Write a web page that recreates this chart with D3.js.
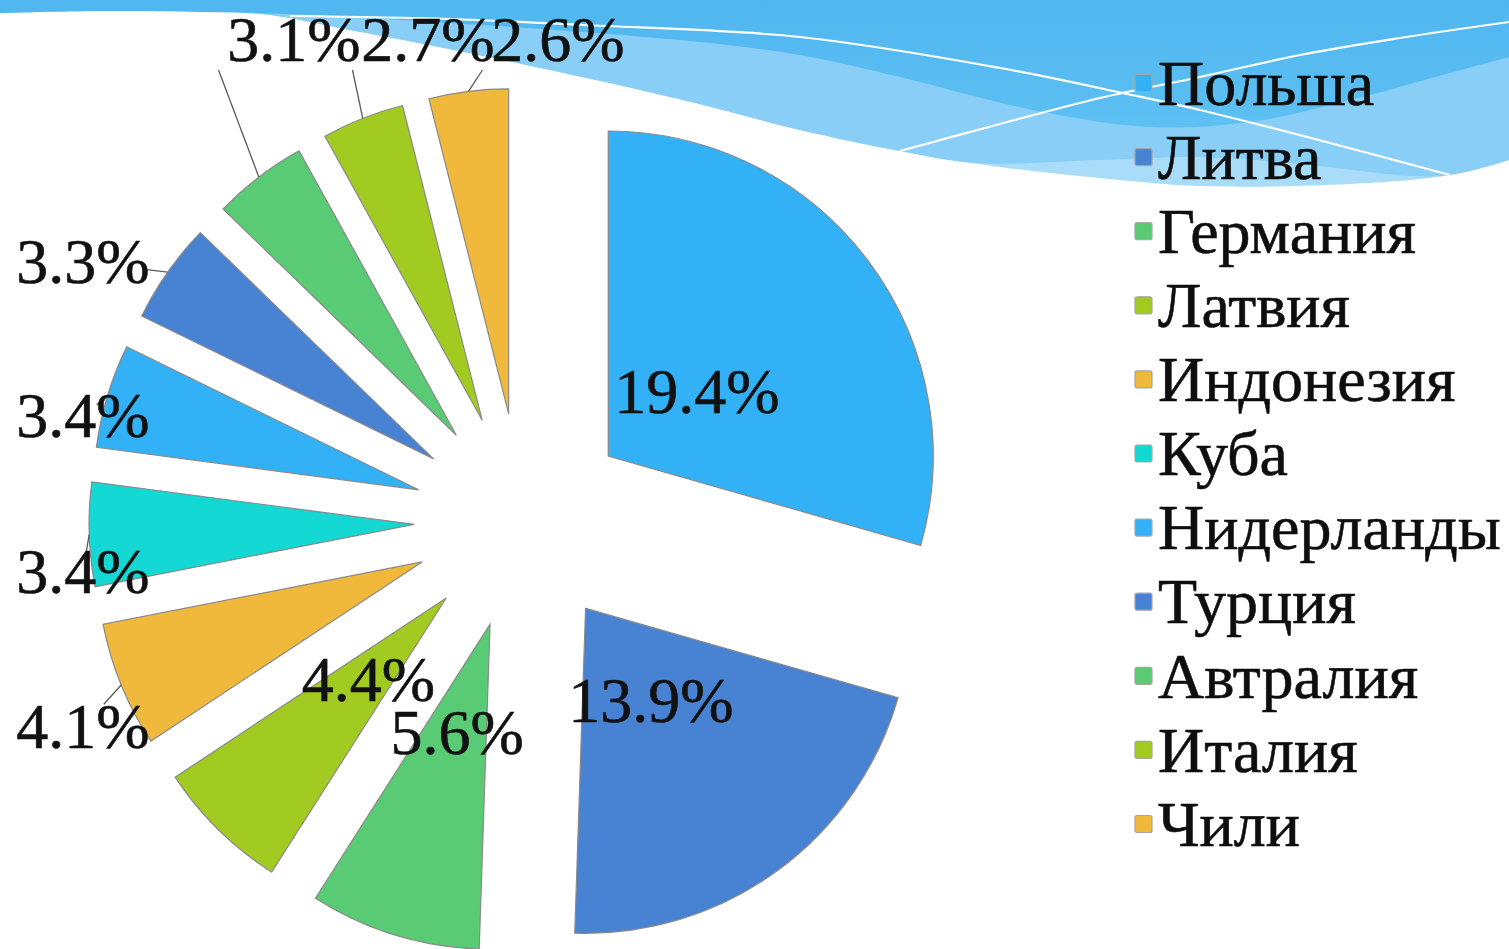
<!DOCTYPE html>
<html>
<head>
<meta charset="utf-8">
<script src="https://cdn.jsdelivr.net/npm/d3@7"></script>
<style>
    body { margin: 0; background: #ffffff; }
    svg { display: block; }
    text { font-family: "Liberation Serif", "Times New Roman", serif; }
</style>
</head>
<body>
<div id="chart"></div>
<script>
// data
const countries = ["Польша", "Литва", "Германия", "Латвия", "Индонезия", "Куба",
    "Нидерланды", "Турция", "Автралия", "Италия", "Чили"];
const shares = [19.4, 13.9, 5.6, 4.4, 4.1, 3.4, 3.4, 3.3, 3.1, 2.7, 2.6];
// which labels sit inside the slice, which are pushed out with a leader
const labelInside = [true, true, true, true, false, false, false, false, false, false, false];

// colours (excel palette repeats every six)
const sliceColors = ["#33b1f6", "#4782d3", "#58cb74", "#a2cb22", "#f1b93c", "#13d8d4",
    "#33b1f6", "#4782d3", "#58cb74", "#a2cb22", "#f1b93c"];

// layout
const width = 1509, height = 949;
const cx = 522, cy = 521, radius = 325, explode = 108;
const insideLabelR = 111;
// anchor points of the outside labels (index -> centre of text)
const outsideLabelAt = {
    4: [83, 727], 5: [83, 572], 6: [83, 416], 7: [83, 262],
    8: [294, 40], 9: [428, 40], 10: [558, 40]
};
const fontSize = 64;

const svg = d3.select("#chart").append("svg")
    .attr("width", width)
    .attr("height", height);

// ---- slide background wave ----
const defs = svg.append("defs");
const grad = defs.append("linearGradient").attr("id", "topBlue")
    .attr("x1", 0).attr("y1", 0).attr("x2", 0).attr("y2", 1);
grad.append("stop").attr("offset", "0%").attr("stop-color", "#4fb6ef");
grad.append("stop").attr("offset", "100%").attr("stop-color", "#5ec0f3");

const waveBottom = [[0, 13], [250, 13], [350, 30], [517, 63], [683, 100], [800, 130], [900, 151],
    [1000, 167], [1100, 178], [1200, 186], [1350, 184], [1450, 175], [1509, 160]];
const waveMid = [[0, 13], [250, 13], [350, 30], [517, 63], [683, 100], [800, 130], [900, 151],
    [975, 163], [1100, 160], [1200, 157], [1300, 164], [1440, 176], [1509, 160]];
const waveTop = [[0, 13], [100, 11], [250, 13], [350, 17], [450, 23], [583, 32], [700, 42],
    [800, 55], [900, 77], [1033, 110], [1150, 127], [1250, 122], [1350, 100], [1450, 73], [1509, 57]];
const lineA = [[290, 16], [450, 19], [583, 25], [800, 37], [1000, 68], [1127, 94], [1200, 110],
    [1330, 143], [1450, 175]];
const lineB = [[900, 151], [1000, 124], [1100, 98], [1200, 77], [1300, 55], [1400, 38], [1509, 22]];

const waveArea = d3.area()
    .x(d => d[0]).y0(0).y1(d => d[1])
    .curve(d3.curveCatmullRom.alpha(0.5));
const waveLine = d3.line()
    .x(d => d[0]).y(d => d[1])
    .curve(d3.curveCatmullRom.alpha(0.5));

const bg = svg.append("g").attr("class", "wave");
bg.append("path").attr("d", waveArea(waveBottom)).attr("fill", "#a9dcf9");
bg.append("path").attr("d", waveArea(waveMid)).attr("fill", "#88cef6");
bg.append("path").attr("d", waveArea(waveTop)).attr("fill", "url(#topBlue)");
[lineA, lineB].forEach(pts => {
    bg.append("path").attr("d", waveLine(pts))
        .attr("fill", "none").attr("stroke", "#ffffff").attr("stroke-width", 2.2);
});

// ---- exploded pie ----
const data = countries.map((c, i) => ({ name: c, value: shares[i], i: i }));
const pie = d3.pie().sort(null).value(d => d.value);
const arcs = pie(data);
const arc = d3.arc().innerRadius(0).outerRadius(radius);
const labelArc = d3.arc().innerRadius(insideLabelR).outerRadius(insideLabelR);

function offsetOf(a) {
    let mid = (a.startAngle + a.endAngle) / 2;
    return [explode * Math.sin(mid), -explode * Math.cos(mid)];
}

const pieG = svg.append("g").attr("transform", `translate(${cx},${cy})`);

pieG.selectAll("path.slice")
    .data(arcs)
    .enter()
    .append("path")
    .classed("slice", true)
    .attr("transform", d => {
        let o = offsetOf(d);
        return `translate(${o[0]},${o[1]})`;
    })
    .attr("d", arc)
    .attr("fill", d => sliceColors[d.data.i])
    .attr("stroke", "#8a8a8a")
    .attr("stroke-width", 1.2);

// ---- data labels ----
const fmt = d => d3.format(".1f")(d) + "%";
const labelG = svg.append("g");

arcs.forEach(a => {
    let i = a.data.i;
    let pos;
    if (labelInside[i]) {
        let o = offsetOf(a);
        let c = labelArc.centroid(a);
        pos = [cx + o[0] + c[0], cy + o[1] + c[1] + 3];
    } else {
        pos = outsideLabelAt[i];
        // leader to the middle of the outer arc
        let mid = (a.startAngle + a.endAngle) / 2;
        let tx = cx + (explode + radius) * Math.sin(mid);
        let ty = cy - (explode + radius) * Math.cos(mid);
        let w = 135, h = 44, pad = 8;
        let x0 = pos[0] - w / 2 - pad, x1 = pos[0] + w / 2 + pad;
        let y0 = pos[1] - h / 2 - pad, y1 = pos[1] + h / 2 + pad;
        let sx, sy;
        if (ty > y1 + 20) {
            sx = x0; sy = y1;
        } else {
            sx = Math.max(x0, Math.min(x1, tx));
            sy = Math.max(y0, Math.min(y1, ty));
            // run the leader a little into the label like excel does
            let dx = pos[0] - tx, dy = pos[1] - ty, len = Math.hypot(dx, dy);
            let reach = Math.hypot(sx - tx, sy - ty) + 14;
            sx = tx + dx / len * reach;
            sy = ty + dy / len * reach;
        }
        labelG.append("line")
            .attr("x1", sx).attr("y1", sy)
            .attr("x2", tx).attr("y2", ty)
            .attr("stroke", "#5a5a5a")
            .attr("stroke-width", 1.3);
    }
    labelG.append("text")
        .attr("x", pos[0])
        .attr("y", pos[1])
        .attr("dy", "0.33em")
        .attr("text-anchor", "middle")
        .attr("font-size", fontSize)
        .attr("fill", "#111111")
        .attr("stroke", "#111111")
        .attr("stroke-width", 0.6)
        .text(fmt(a.data.value));
});

// ---- legend ----
const legendY = d3.scalePoint().domain(countries).range([83, 824]);
const legend = svg.append("g").attr("class", "legend");
const items = legend.selectAll("g")
    .data(data)
    .enter()
    .append("g")
    .attr("transform", d => `translate(1135,${legendY(d.name)})`);
items.append("rect")
    .attr("x", 0).attr("y", -8.5)
    .attr("width", 17).attr("height", 17)
    .attr("rx", 2)
    .attr("fill", d => sliceColors[d.i])
    .attr("stroke", "#a5a5a5")
    .attr("stroke-width", 1.2);
items.append("text")
    .attr("x", 23)
    .attr("dy", "0.34em")
    .attr("font-size", fontSize)
    .attr("fill", "#0e0e0e")
    .attr("stroke", "#0e0e0e")
    .attr("stroke-width", 0.6)
    .text(d => d.name);
</script>
</body>
</html>
